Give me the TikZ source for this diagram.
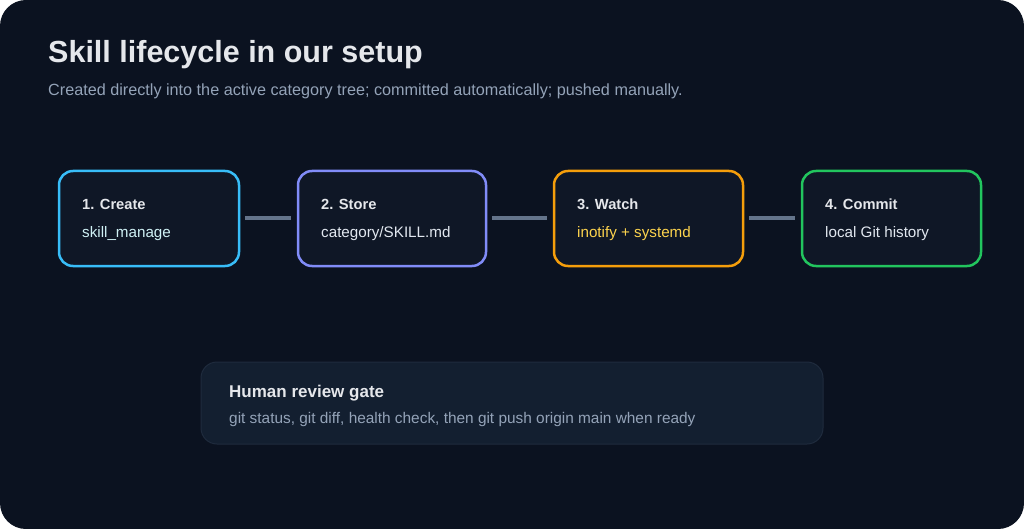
\documentclass[tikz,border=0pt]{standalone}
\usepackage{fontspec}
\setmainfont{Liberation Sans}
\definecolor{bgdark}{HTML}{0B1220}
\definecolor{boxfill}{HTML}{0F1726}
\definecolor{c1}{HTML}{38BDF8}
\definecolor{c2}{HTML}{818CF8}
\definecolor{c3}{HTML}{F59E0B}
\definecolor{c4}{HTML}{22C55E}
\definecolor{titlecol}{HTML}{E5E7EB}
\definecolor{subcol}{HTML}{94A3B8}
\definecolor{labcol}{HTML}{E2E8F0}
\definecolor{cyanlab}{HTML}{CFF1F5}
\definecolor{yel}{HTML}{FCD34D}
\definecolor{linkcol}{HTML}{64748B}
\definecolor{revfill}{HTML}{131F30}
\definecolor{revborder}{HTML}{1F2B3D}
\begin{document}
\begin{tikzpicture}[x=1pt,y=-1pt,
  stepbox/.style={draw=#1,line width=2.5pt,fill=boxfill,rounded corners=14pt,minimum width=180pt,minimum height=95pt,inner sep=0pt},
  steptitle/.style={anchor=base west,inner sep=0pt,text=titlecol,font=\bfseries\fontsize{14.7}{17}\selectfont},
  steptext/.style={anchor=base west,inner sep=0pt,font=\fontsize{15.2}{18}\selectfont},
  link/.style={draw=linkcol,line width=4pt,shorten <=5pt,shorten >=6pt}]
\useasboundingbox (0,0) rectangle (1024,529);
\fill[white] (0,0) rectangle (1024,529);
\fill[bgdark,rounded corners=26pt] (0,0) rectangle (1024,529);
\node[anchor=base west,inner sep=0pt,text=titlecol,font=\bfseries\fontsize{30.5}{34}\selectfont] (title) at (48,63) {Skill lifecycle in our setup};
\node[anchor=base west,inner sep=0pt,text=subcol,font=\fontsize{16.2}{19}\selectfont] (sub) at (48,96) {Created directly into the active category tree; committed automatically; pushed manually.};
\node[stepbox=c1,minimum width=180pt] (b1) at (149,218.5) {};
\node[stepbox=c2,minimum width=188pt] (b2) at (392,218.5) {};
\node[stepbox=c3,minimum width=189pt] (b3) at (648.5,218.5) {};
\node[stepbox=c4,minimum width=179pt] (b4) at (891.5,218.5) {};
\node[steptitle] (t1) at (82,210) {1. Create};
\node[steptext,text=cyanlab] (s1) at (82,237) {skill\_manage};
\node[steptitle] (t2) at (321,210) {2. Store};
\node[steptext,text=labcol] (s2) at (321,237) {category/SKILL.md};
\node[steptitle] (t3) at (577,210) {3. Watch};
\node[steptext,text=yel] (s3) at (577,237) {inotify + systemd};
\node[steptitle] (t4) at (825,210) {4. Commit};
\node[steptext,text=labcol] (s4) at (825,237) {local Git history};
\draw[link] (b1.east) -- (b2.west);
\draw[link] (b2.east) -- (b3.west);
\draw[link] (b3.east) -- (b4.west);
\node[draw=revborder,line width=1pt,fill=revfill,rounded corners=16pt,minimum width=622pt,minimum height=82pt,inner sep=0pt] (rev) at (512,403) {};
\node[anchor=base west,inner sep=0pt,text=titlecol,font=\bfseries\fontsize{17}{20}\selectfont] (revt) at (229,397) {Human review gate};
\node[anchor=base west,inner sep=0pt,text=subcol,font=\fontsize{15.4}{18}\selectfont] (revs) at (229,423) {git status, git diff, health check, then git push origin main when ready};
\end{tikzpicture}
\end{document}
